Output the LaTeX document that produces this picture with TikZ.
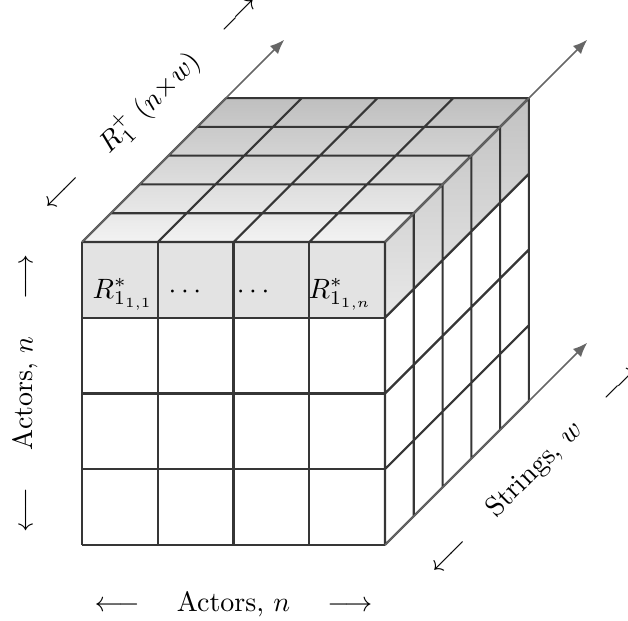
\documentclass[tikz,border=0pt]{standalone}
\usepackage{amsmath, amssymb}
\usepackage{xcolor}
\definecolor{cube-line}{HTML}{363636}
\definecolor{axis-gray}{HTML}{666666}
\usetikzlibrary{arrows.meta}

\begin{document}
\begin{tikzpicture}[every node/.style={scale=1.05},
    cube line/.style={draw=cube-line, thick},
    axis arrow/.style={draw=axis-gray, semithick, -{Latex[length=1.9mm, width=1.5mm]}},
    axis label/.style={font=\normalsize}]
  \useasboundingbox (-1.083,-1.003) rectangle (7.208,7.195);

  % corners of the block, free ends of the axes
  \coordinate (ftl) at (0,4);
  \coordinate (ftr) at (4,4);
  \coordinate (fbr) at (4,0);
  \coordinate (fml) at (0,3);
  \coordinate (fmr) at (4,3);
  \coordinate (btl) at (1.9,5.9);
  \coordinate (btr) at (5.9,5.9);
  \coordinate (bmr) at (5.9,4.9);
  \coordinate (tl-end) at (2.67,6.67);
  \coordinate (tr-end) at (6.67,6.67);
  \coordinate (br-end) at (6.67,2.67);

  % shaded top row of every slice
  \shade[top color=gray!50, bottom color=gray!10] (ftl) -- (ftr) -- (btr) -- (btl) -- cycle;
  \shade[top color=gray!48, bottom color=gray!18] (fmr) -- (ftr) -- (btr) -- (bmr) -- cycle;
  \fill[gray!22] (fml) rectangle (ftr);

  % grids on the three faces
  \draw[cube line] (0,0) grid (4,4);
  \begin{scope}[cm={1,0,0.38,0.38,(0,4)}]
    \draw[cube line] (0,0) grid (4,5);
  \end{scope}
  \begin{scope}[cm={0.38,0.38,0,1,(4,0)}]
    \draw[cube line] (0,0) grid (5,4);
  \end{scope}

  % first row of the front slice
  \foreach \i/\x/\t in {1/0.54/{R^*_{1_{1,1}}}, 2/1.39/{\cdots}, 3/2.29/{\cdots}, 4/3.41/{R^*_{1_{1,n}}}} {
    \node[anchor=base] (cell\i) at (\x, 3.26) {$\t$};
  }

  % axes
  \draw[axis arrow] (ftl) -- (tl-end);
  \draw[axis arrow] (ftr) -- (tr-end);
  \draw[axis arrow] (fbr) -- (br-end);

  \node[axis label] (actors-x) at (2, -0.78)
    {$\longleftarrow$ \quad Actors, $n$ \quad $\longrightarrow$};
  \node[axis label, rotate=90] (actors-y) at (-0.75, 2)
    {$\longleftarrow$ \quad Actors, $n$ \quad $\longrightarrow$};
  \node[axis label, rotate=45] (rel-size) at (0.89, 5.84)
    {$\longleftarrow$ \quad $R_1^{+}$ $(n{\times}w)$ \quad $\longrightarrow$};
  \node[axis label, rotate=45] (strings) at (5.98, 0.99)
    {$\longleftarrow$ \quad Strings, $w$ \quad $\longrightarrow$};
\end{tikzpicture}
\end{document}
